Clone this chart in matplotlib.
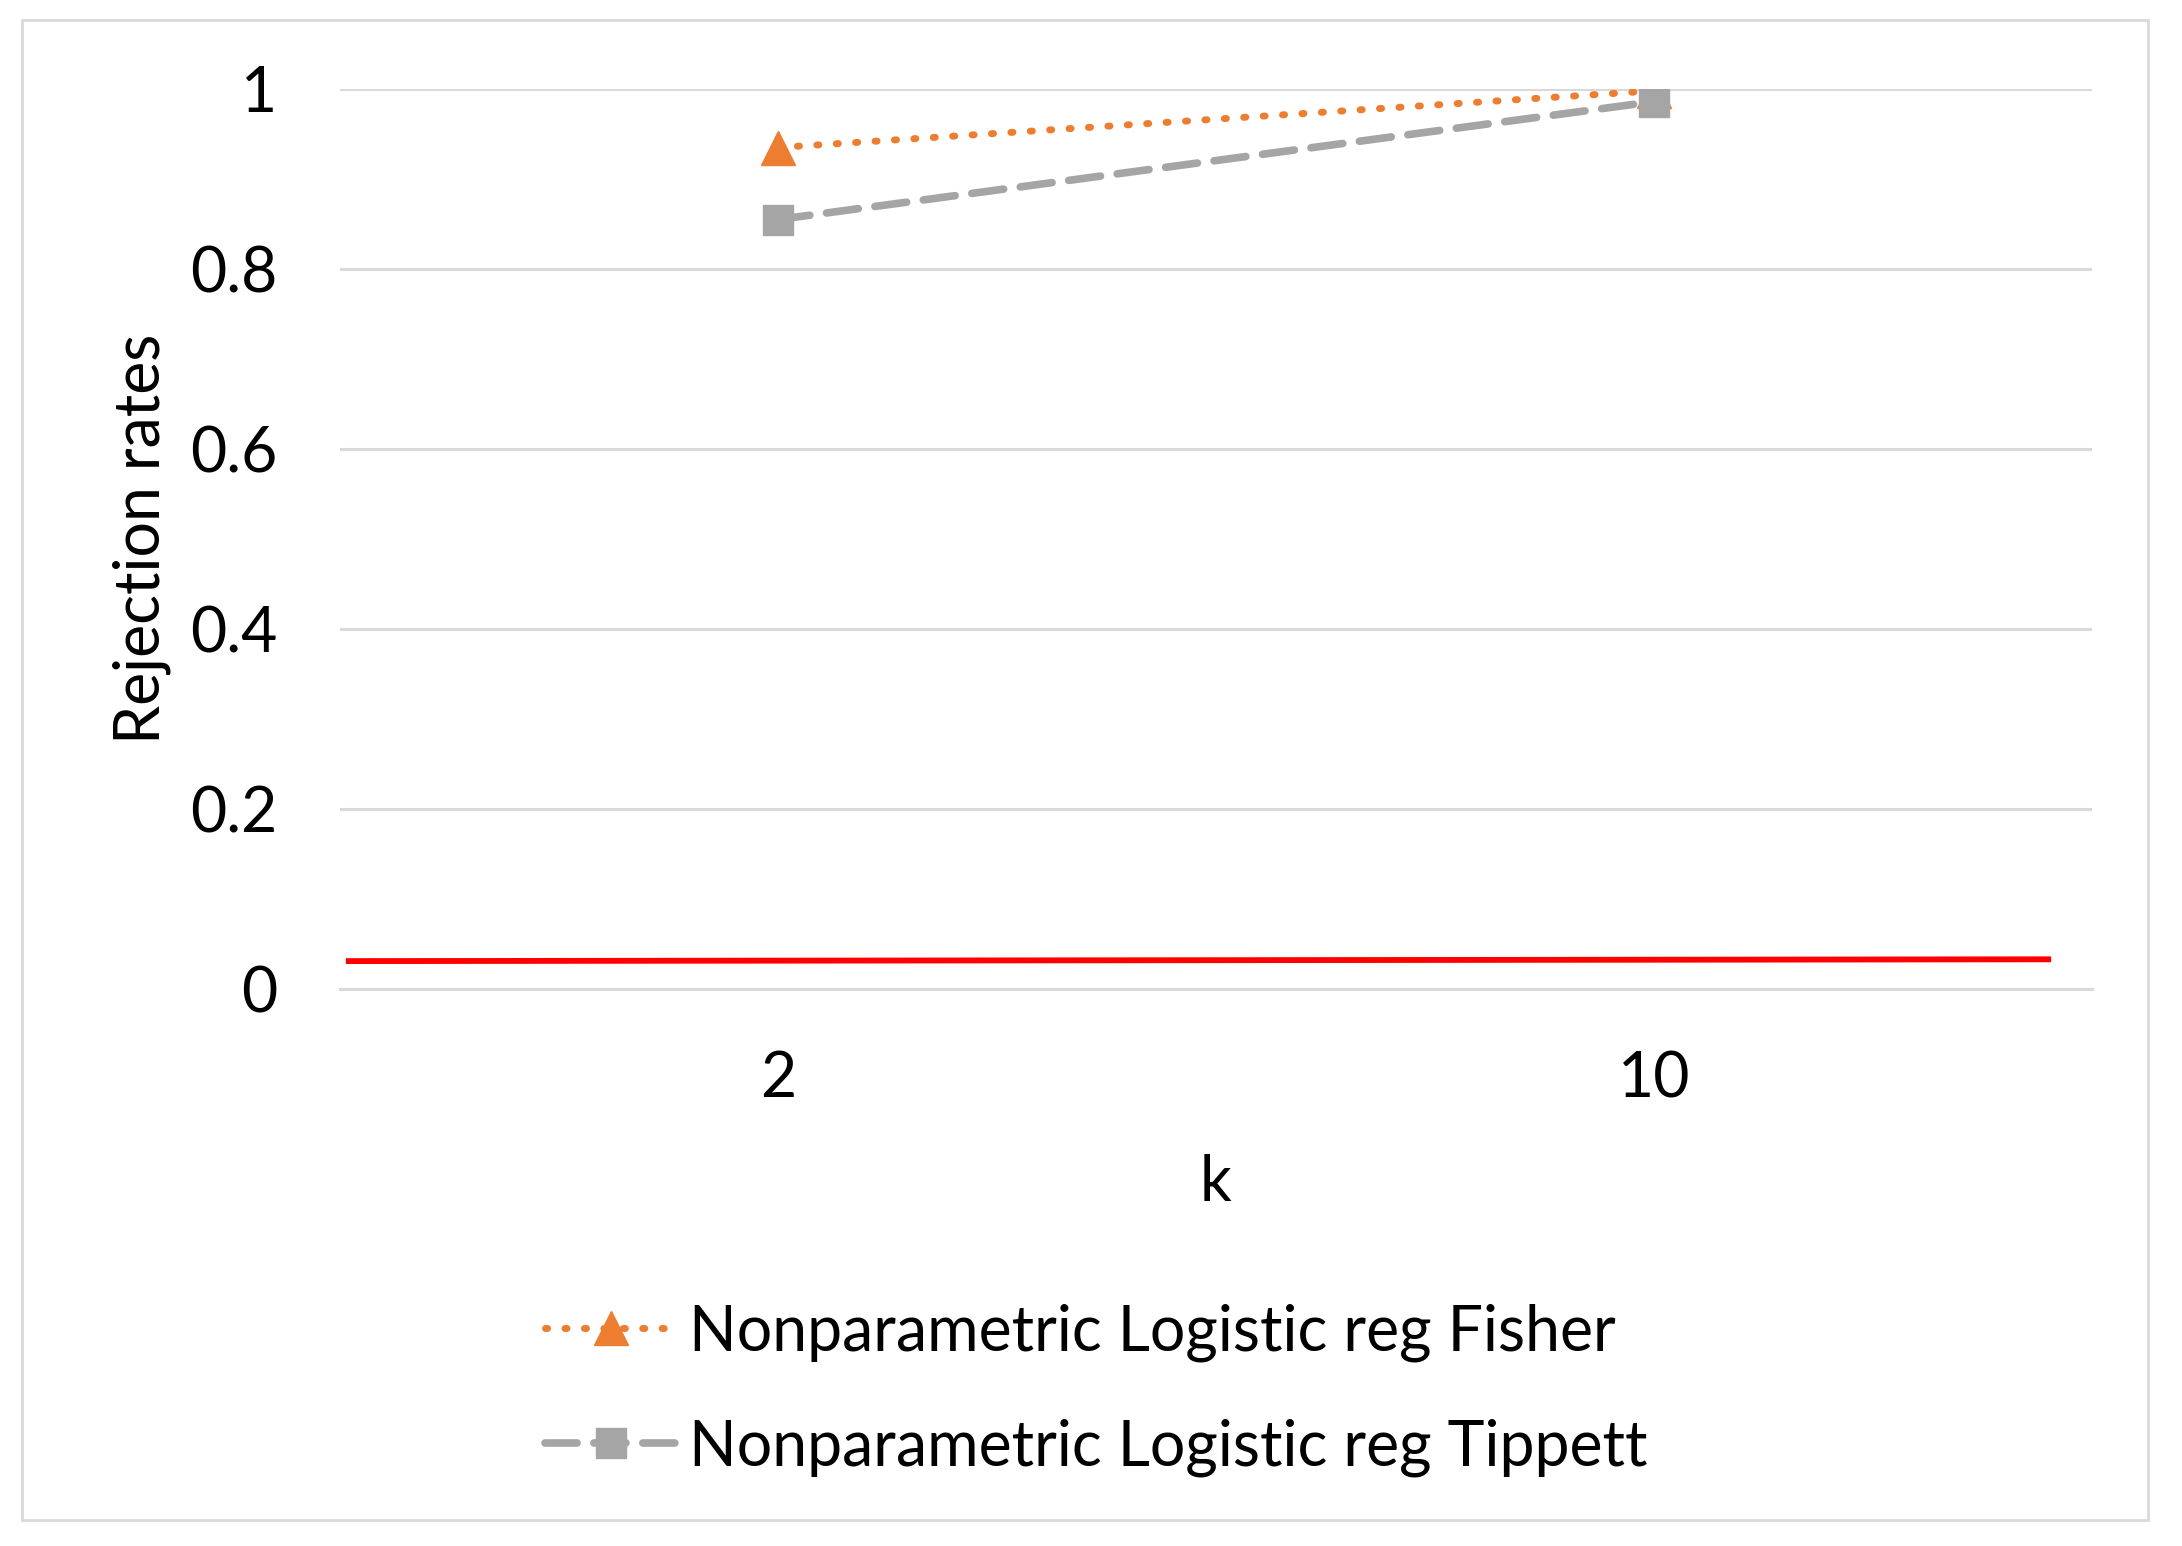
import matplotlib.pyplot as plt
from matplotlib.patches import Rectangle

# Data
categories = ['2', '10']
fisher = [0.935, 0.998]
tippett = [0.855, 0.986]
ref_x = [-0.49, 1.45]
ref_line = [0.031, 0.033]

plt.rcParams['font.family'] = ['Lato', 'DejaVu Sans']
FS = 45

fig = plt.figure(figsize=(21.82, 15.46), dpi=100)
# outer chart border
fig.patches.append(Rectangle((22 / 2182, 1 - 1520 / 1546), 2126 / 2182, 1500 / 1546,
                             transform=fig.transFigure, fill=False,
                             edgecolor='#d9d9d9', linewidth=2))

ax = fig.add_axes([340 / 2182, 1 - 989 / 1546, 1752 / 2182, 900 / 1546])
x = list(range(len(categories)))

ax.plot(x, fisher, color='#ED7D31', linewidth=5, linestyle=(0, (0.3, 2.5)),
        dash_capstyle='round', marker='^', markersize=24,
        label='Nonparametric Logistic reg Fisher', zorder=3)
ax.plot(x, tippett, color='#A5A5A5', linewidth=5.5, linestyle=(0, (4.2, 2.2)),
        dash_capstyle='round', marker='s', markersize=22,
        label='Nonparametric Logistic reg Tippett', zorder=3)
ax.plot(ref_x, ref_line, color='#FF0000', linewidth=4.2, zorder=2)

ax.set_xlim(-0.5, 1.5)
ax.set_ylim(0, 1)
ax.set_xticks(x)
ax.set_xticklabels(categories)
ax.set_yticks([0, 0.2, 0.4, 0.6, 0.8, 1])
ax.set_yticklabels(['0', '0.2', '0.4', '0.6', '0.8', '1'])
ax.tick_params(axis='both', length=0, labelsize=FS)
ax.tick_params(axis='x', pad=44)
ax.tick_params(axis='y', pad=45)

ax.grid(axis='y', color='#d9d9d9', linewidth=2.2)
ax.set_axisbelow(True)
for s in ['top', 'right', 'left']:
    ax.spines[s].set_visible(False)
ax.spines['bottom'].set_color('#d9d9d9')
ax.spines['bottom'].set_linewidth(2.2)

ax.set_xlabel('k', fontsize=FS, labelpad=33)
ax.set_ylabel('Rejection rates', fontsize=FS, labelpad=14)

fig.legend(loc='upper left', bbox_to_anchor=(545 / 2182, 0.157), frameon=False,
           fontsize=FS, handlelength=2.1, handletextpad=0.2, labelspacing=0.9,
           borderpad=0, borderaxespad=0)

fig.savefig('out.png', dpi=100)
